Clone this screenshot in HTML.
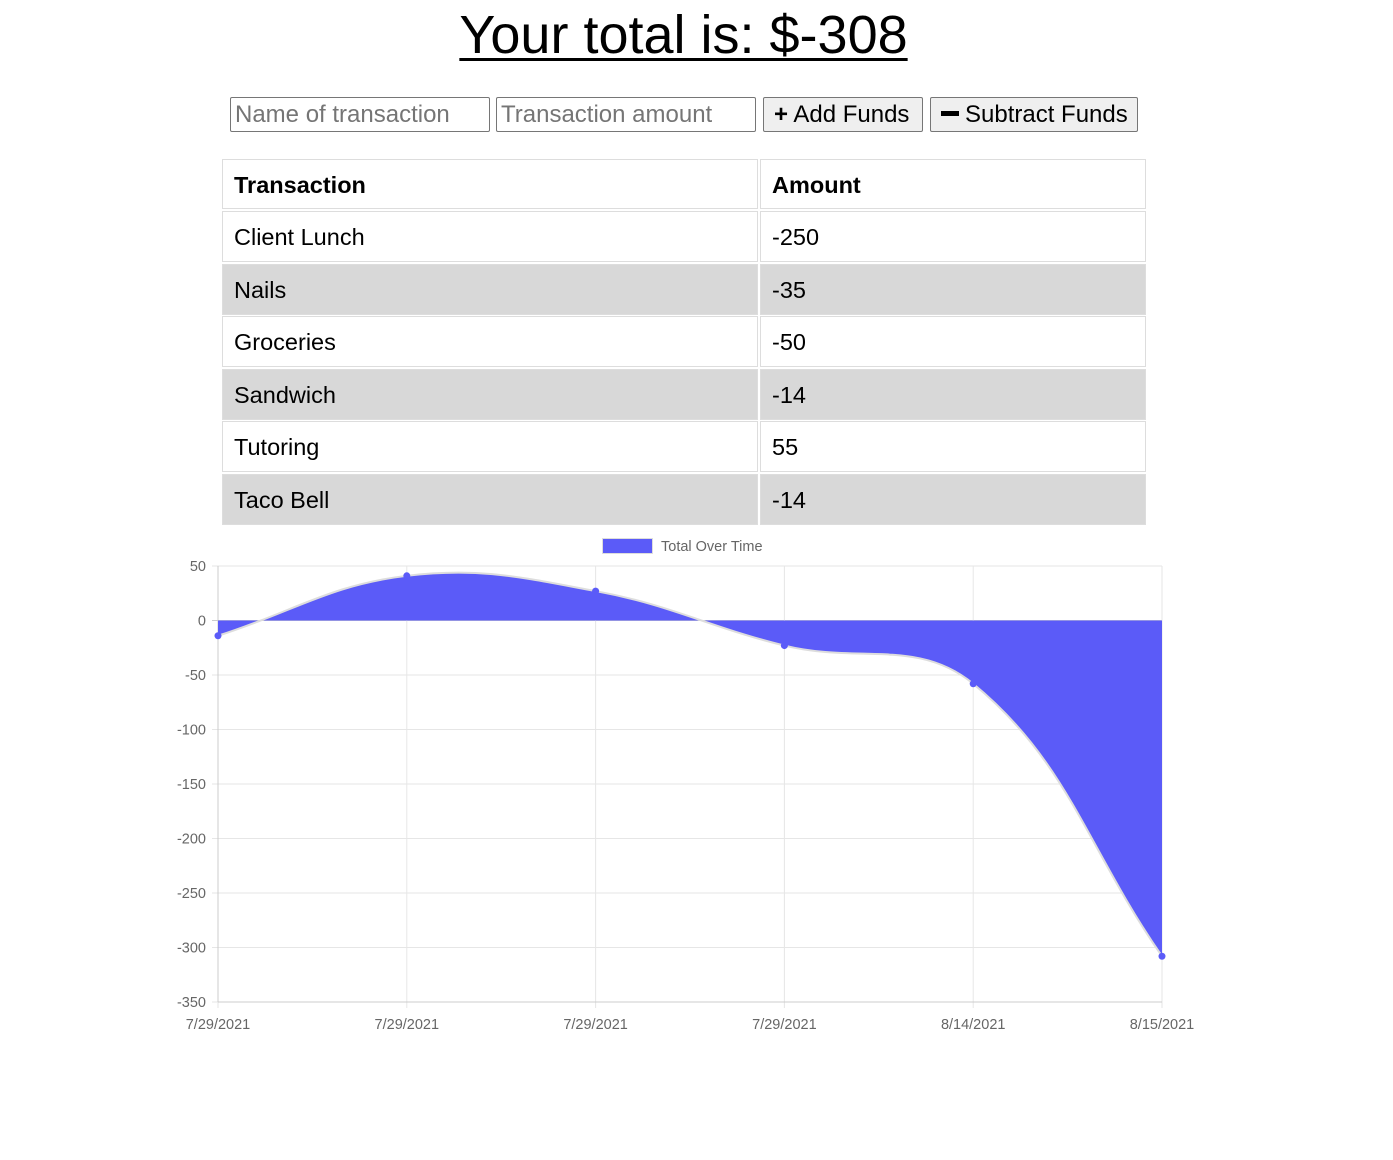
<!DOCTYPE html>
<html><head><meta charset="utf-8">
<style>
body{margin:0;width:1393px;height:1160px;background:#fff;font-family:"Liberation Sans",Arial,sans-serif;position:relative;overflow:hidden}
#title{position:absolute;left:0;width:1367px;top:4px;text-align:center;font-size:54px;font-weight:normal;margin:0;text-decoration:underline;text-decoration-thickness:3px;text-underline-offset:5px}
.inp{position:absolute;top:97px;height:35px;box-sizing:border-box;border:1px solid #767676;border-radius:2px;font-size:24px;color:#757575;padding:0 4px;line-height:33px;white-space:nowrap;overflow:hidden}
.btn{position:absolute;top:97px;height:35px;box-sizing:border-box;border:1px solid #767676;border-radius:2px;background:#efefef;font-size:24px;line-height:33px;padding-left:10px;white-space:nowrap}
.cell{position:absolute;box-sizing:border-box;border:1px solid #ddd;font-size:23.5px;padding-left:11px;line-height:50px}
.hd{font-weight:bold}
</style></head><body>
<h1 id="title">Your total is: $-308</h1>
<div class="inp" style="left:230px;width:260px">Name of transaction</div>
<div class="inp" style="left:496px;width:260px">Transaction amount</div>
<div class="btn" style="left:763px;width:160px"><b>+</b> Add Funds</div>
<div class="btn" style="left:930px;width:208px"><span style="display:inline-block;width:18px;height:5px;background:#000;vertical-align:middle;margin-right:6px;position:relative;top:-2px"></span>Subtract Funds</div>
<div id="table"></div>
<svg id="chart" width="1393" height="1160" style="position:absolute;left:0;top:0"></svg>
<script>
const rowNames=["Client Lunch","Nails","Groceries","Sandwich","Tutoring","Taco Bell"];
const rowAmounts=[-250,-35,-50,-14,55,-14];
const labels=["7/29/2021","7/29/2021","7/29/2021","7/29/2021","8/14/2021","8/15/2021"];
const totals=[-14,41,27,-23,-58,-308];
const yTicks=[50,0,-50,-100,-150,-200,-250,-300,-350];

const tb=document.getElementById('table');
function cell(x,y,w,h,txt,cls,bg,name){
  const d=document.createElement('div');
  d.className='cell '+cls;
  d.style.cssText=`left:${x}px;top:${y}px;width:${w}px;height:${h}px;background:${bg}`;
  d.textContent=txt;
  
  
  tb.appendChild(d);
}
cell(222,159,536,50,"Transaction","hd","#fff","header-transaction");
cell(760,159,386,50,"Amount","hd","#fff","header-amount");
rowNames.forEach((n,i)=>{
  const y=211+i*52.5, bg=i%2?"#d8d8d8":"#fff";
  cell(222,y,536,51,n,"",bg,"row-name");
  cell(760,y,386,51,String(rowAmounts[i]),"",bg,"row-amount");
});

const svg=document.getElementById('chart');
const NS='http://www.w3.org/2000/svg';
const X0=218,X1=1162,Y0=566,Y1=1002,YMAX=50,YMIN=-350;
const xs=i=>X0+(X1-X0)*i/(labels.length-1);
const ys=v=>Y0+(YMAX-v)/(YMAX-YMIN)*(Y1-Y0);
function el(t,a,name){const e=document.createElementNS(NS,t);for(const k in a)e.setAttribute(k,a[k]);
  
  
  svg.appendChild(e);return e;}
yTicks.forEach(v=>{
  el('line',{x1:X0-6,x2:X1,y1:ys(v),y2:ys(v),stroke:v===0?'#ccc':'#e6e6e6','stroke-width':1},'y-gridline');
  const t=el('text',{x:X0-12,y:ys(v)+5,'text-anchor':'end','font-size':14.5,fill:'#666','font-family':'Liberation Sans, sans-serif'},'y-tick-label');t.textContent=v;
});
labels.forEach((l,i)=>{
  el('line',{x1:xs(i),x2:xs(i),y1:Y0,y2:Y1+6,stroke:'#e6e6e6','stroke-width':1},'x-gridline');
  const t=el('text',{x:xs(i),y:Y1+27,'text-anchor':'middle','font-size':14.5,fill:'#666','font-family':'Liberation Sans, sans-serif'},'x-tick-label');t.textContent=l;
});
el('line',{x1:X0,x2:X0,y1:Y0,y2:Y1,stroke:'#ccc'},'y-axis');
el('line',{x1:X0,x2:X1,y1:Y1,y2:Y1,stroke:'#ccc'},'x-axis');
const pts=totals.map((v,i)=>({x:xs(i),y:ys(v)}));
const cps=pts.map((p,i)=>{
  const p0=pts[i-1]||p,p2=pts[i+1]||p;
  const d01=Math.hypot(p.x-p0.x,p.y-p0.y),d12=Math.hypot(p2.x-p.x,p2.y-p.y);
  const s=d01+d12||1,fa=0.4*d01/s,fb=0.4*d12/s;
  return{px:p.x-fa*(p2.x-p0.x),py:p.y-fa*(p2.y-p0.y),nx:p.x+fb*(p2.x-p0.x),ny:p.y+fb*(p2.y-p0.y)};
});
let d=`M${pts[0].x},${pts[0].y}`;
for(let i=1;i<pts.length;i++)d+=` C${cps[i-1].nx},${cps[i-1].ny} ${cps[i].px},${cps[i].py} ${pts[i].x},${pts[i].y}`;
const z=ys(0);
el('path',{d:d+` L${pts[pts.length-1].x},${z} L${pts[0].x},${z} Z`,fill:'#5b5bf8'},'area-fill');
el('path',{d:d,fill:'none',stroke:'#ddd','stroke-width':2},'line-border');
pts.forEach(p=>el('circle',{cx:p.x,cy:p.y,r:3.5,fill:'#5b5bf8'},'data-point'));
el('rect',{x:602.5,y:538.5,width:50,height:15,fill:'#5b5bf8',stroke:'#ddd'},'legend-swatch');
const lt=el('text',{x:661,y:551,'font-size':14.5,fill:'#666','font-family':'Liberation Sans, sans-serif'},'legend-label');lt.textContent='Total Over Time';
</script>
</body></html>
